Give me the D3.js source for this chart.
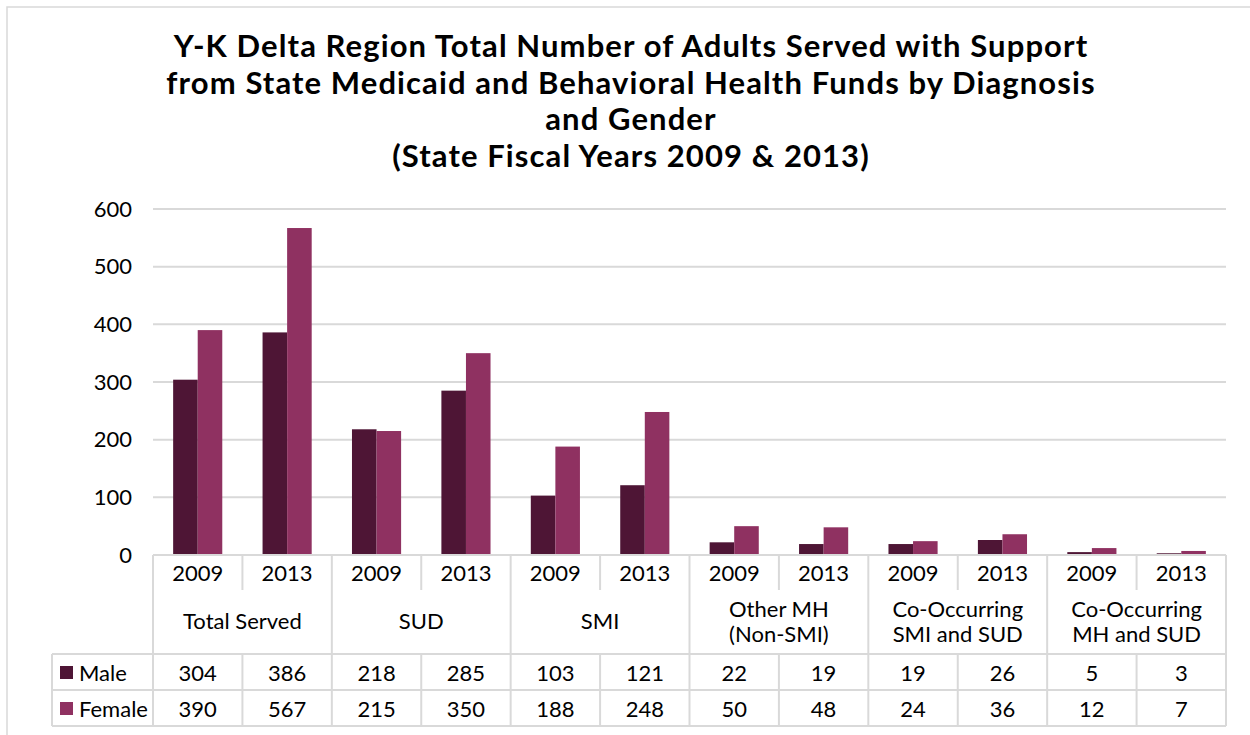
<!DOCTYPE html>
<html>
<head>
<meta charset="utf-8">
<script src="https://cdn.jsdelivr.net/npm/d3@7"></script>
<style>
  body { margin: 0; background: #fff; }
  text { font-family: "Gill Sans", "Gill Sans MT", Lato, sans-serif; fill: #000; }
</style>
</head>
<body>
<svg id="chart"></svg>
<script>
const categories = [
  ['Total Served'],
  ['SUD'],
  ['SMI'],
  ['Other MH', '(Non-SMI)'],
  ['Co-Occurring', 'SMI and SUD'],
  ['Co-Occurring', 'MH and SUD']
];
const years = ['2009', '2013'];
const seriesNames = ['Male', 'Female'];
// values in order: category x year
const maleValues = [304, 386, 218, 285, 103, 121, 22, 19, 19, 26, 5, 3];
const femaleValues = [390, 567, 215, 350, 188, 248, 50, 48, 24, 36, 12, 7];
const yTicks = [0, 100, 200, 300, 400, 500, 600];
const titleLines = [
  'Y-K Delta Region Total Number of Adults Served with Support',
  'from State Medicaid and Behavioral Health Funds by Diagnosis',
  'and Gender',
  '(State Fiscal Years 2009 & 2013)'
];

const colors = { Male: '#4e1535', Female: '#8f3161' };
const gridColor = '#d9d9d9';

const width = 1250, height = 735;
const plot = { left: 153, right: 1226, top: 209, bottom: 555 };

const svg = d3.select('#chart')
  .attr('width', width)
  .attr('height', height);

// chart border (runs off the right and bottom edges)
svg.append('rect')
  .attr('x', 7).attr('y', 7)
  .attr('width', width + 20).attr('height', height + 20)
  .attr('fill', 'none')
  .attr('stroke', gridColor)
  .attr('stroke-width', 1.5);

// Title
svg.append('text')
  .attr('x', 631)
  .attr('y', 57)
  .attr('text-anchor', 'middle')
  .style('font-size', '31px')
  .style('font-weight', 'bold')
  .style('letter-spacing', '1.1px')
  .selectAll('tspan')
  .data(titleLines)
  .enter()
  .append('tspan')
  .attr('x', 631)
  .attr('dy', (d, i) => i === 0 ? 0 : 36.6)
  .text(d => d);

// one row per category/year
const rows = [];
categories.forEach((c, ci) => {
  years.forEach((yr, yi) => {
    const idx = ci * years.length + yi;
    rows.push({ cat: ci, year: yr, Male: maleValues[idx], Female: femaleValues[idx] });
  });
});

const x0 = d3.scaleBand()
  .domain(categories.map((d, i) => i))
  .range([plot.left, plot.right]);

const x1 = d3.scaleBand()
  .domain(years)
  .range([0, x0.bandwidth()]);

const x2 = d3.scaleBand()
  .domain(seriesNames)
  .range([0, x1.bandwidth()])
  .paddingInner(0)
  .paddingOuter(0.82);

const y = d3.scaleLinear()
  .domain([0, 600])
  .range([plot.bottom, plot.top]);

const colX = d => x0(d.cat) + x1(d.year);

// Gridlines
svg.append('g')
  .selectAll('line')
  .data(yTicks)
  .enter()
  .append('line')
  .attr('x1', plot.left)
  .attr('x2', plot.right)
  .attr('y1', d => y(d))
  .attr('y2', d => y(d))
  .attr('stroke', gridColor)
  .attr('stroke-width', 2);

// Y labels
svg.append('g')
  .selectAll('text')
  .data(yTicks)
  .enter()
  .append('text')
  .attr('x', 132)
  .attr('y', d => y(d))
  .attr('dy', '0.35em')
  .attr('text-anchor', 'end')
  .style('font-size', '22px')
  .text(d => d);

// Bars
svg.append('g')
  .selectAll('rect')
  .data(rows.flatMap(r => seriesNames.map(s => ({ r, s, v: r[s] }))))
  .enter()
  .append('rect')
  .attr('x', d => colX(d.r) + x2(d.s))
  .attr('y', d => y(d.v))
  .attr('width', x2.bandwidth())
  .attr('height', d => y(0) - y(d.v))
  .attr('fill', d => colors[d.s]);

// Data table
const tableTop = plot.bottom;
const yearRowBottom = tableTop + 35;
const catRowBottom = tableTop + 99;
const valRowH = 36;
const tableBottom = catRowBottom + 2 * valRowH;
const legendLeft = 52;
const tbl = svg.append('g');
const line = (ax, ay, bx, by) => tbl.append('line')
  .attr('x1', ax).attr('y1', ay).attr('x2', bx).attr('y2', by)
  .attr('stroke', gridColor).attr('stroke-width', 2);

line(plot.left, tableTop, plot.right, tableTop);
line(legendLeft, catRowBottom, plot.right, catRowBottom);
line(legendLeft, catRowBottom + valRowH, plot.right, catRowBottom + valRowH);
line(legendLeft, tableBottom, plot.right, tableBottom);

categories.forEach((c, ci) => {
  const mid = x0(ci) + x1('2013');
  line(x0(ci), tableTop, x0(ci), tableBottom);
  line(mid, tableTop, mid, yearRowBottom);
  line(mid, catRowBottom, mid, tableBottom);
});
line(plot.right, tableTop, plot.right, tableBottom);
line(legendLeft, catRowBottom, legendLeft, tableBottom);

const fs = '22px';

// year labels
tbl.selectAll('.yr')
  .data(rows)
  .enter()
  .append('text')
  .attr('x', d => colX(d) + x1.bandwidth() / 2)
  .attr('y', tableTop + 26)
  .attr('text-anchor', 'middle')
  .style('font-size', fs)
  .text(d => d.year);

// category labels
tbl.selectAll('.cat')
  .data(categories)
  .enter()
  .append('text')
  .attr('x', (d, i) => x0(i) + x0.bandwidth() / 2)
  .attr('y', d => d.length === 1 ? tableTop + 74 : tableTop + 62)
  .attr('text-anchor', 'middle')
  .style('font-size', fs)
  .selectAll('tspan')
  .data((d, i) => d.map(t => ({ t, i })))
  .enter()
  .append('tspan')
  .attr('x', d => x0(d.i) + x0.bandwidth() / 2)
  .attr('dy', (d, k) => k === 0 ? 0 : 25)
  .text(d => d.t);

// value rows with legend keys
seriesNames.forEach((s, si) => {
  const rowTop = catRowBottom + si * valRowH;
  tbl.append('rect')
    .attr('x', 60)
    .attr('y', rowTop + 12)
    .attr('width', 13)
    .attr('height', 13)
    .attr('fill', colors[s]);
  tbl.append('text')
    .attr('x', 79)
    .attr('y', rowTop + 27)
    .style('font-size', fs)
    .text(s);
  tbl.selectAll('.v' + s)
    .data(rows)
    .enter()
    .append('text')
    .attr('x', d => colX(d) + x1.bandwidth() / 2)
    .attr('y', rowTop + 27)
    .attr('text-anchor', 'middle')
    .style('font-size', fs)
    .text(d => d[s]);
});
</script>
</body>
</html>
